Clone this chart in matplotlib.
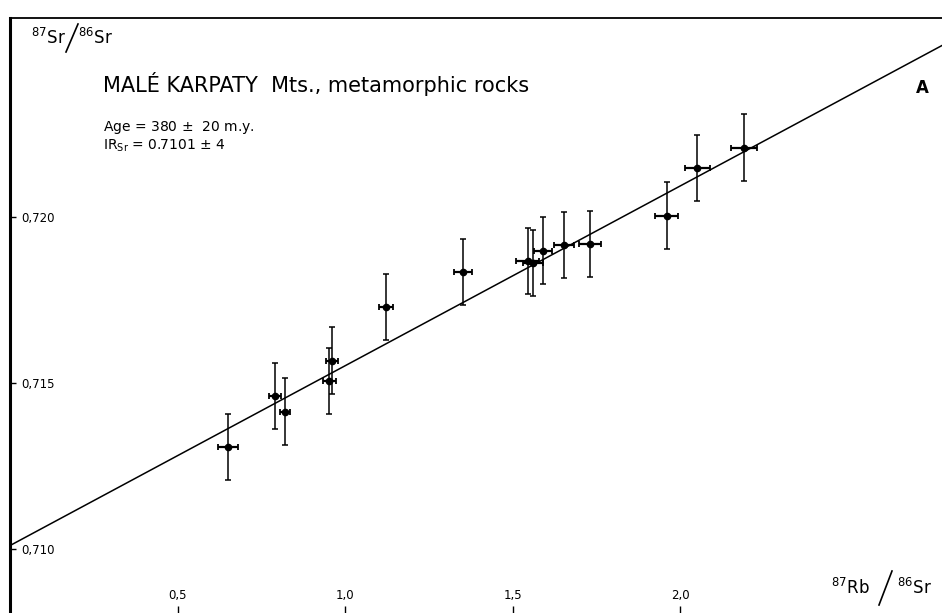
import numpy as np
import matplotlib
matplotlib.use("Agg")
import matplotlib.pyplot as plt
from matplotlib.lines import Line2D

# Rb-Sr whole-rock isochron, Malé Karpaty metamorphic rocks
rb_sr = [0.651, 0.791, 0.821, 0.953, 0.962, 1.121, 1.353, 1.545,
         1.562, 1.590, 1.653, 1.731, 1.960, 2.052, 2.191]
sr_sr = [0.71307, 0.71460, 0.71413, 0.71506, 0.71567, 0.71728, 0.71834, 0.71867,
         0.71860, 0.71898, 0.71915, 0.71918, 0.72003, 0.72146, 0.72208]
rb_err = [0.030, 0.017, 0.015, 0.020, 0.018, 0.021, 0.027, 0.035,
          0.030, 0.027, 0.030, 0.032, 0.035, 0.037, 0.040]
sr_err = [0.001] * len(sr_sr)

age_my = 380
initial_ratio = 0.7101
decay_const = 1.42e-11  # 87Rb, per year

x_ticks = [0.5, 1.0, 1.5, 2.0]
x_ticklabels = ['0,5', '1,0', '1,5', '2,0']
y_ticks = [0.710, 0.715, 0.720]
y_ticklabels = ['0,710', '0,715', '0,720']

plt.rcParams['font.family'] = ['DejaVu Sans']

W, H = 942, 613


def px(x, y):
    """pixel position (from top-left) -> figure fraction"""
    return x / W, 1 - y / H


def ratio_label(num, den, x0, x1, baseline, slash_from, slash_to):
    # isotope ratio written as  num / den  with a tall thin slash
    fig.text(*px(x0, baseline), num, fontsize=12, ha='left', va='baseline')
    fig.text(*px(x1, baseline), den, fontsize=12, ha='left', va='baseline')
    (xa, ya), (xb, yb) = px(*slash_from), px(*slash_to)
    fig.add_artist(Line2D([xa, xb], [ya, yb], transform=fig.transFigure,
                          color='black', linewidth=1.2))


fig = plt.figure(figsize=(W / 100, H / 100), dpi=100)
ax = fig.add_axes([10 / W, 0, 1 - 10 / W, (H - 18) / H])
ax.set_xlim(0, 2.782)
ax.set_ylim(0.70807, 0.72598)

# isochron line from the stated age and initial ratio
slope = np.exp(decay_const * age_my * 1e6) - 1
xs = np.array([0, 2.782])
ax.plot(xs, initial_ratio + slope * xs, color='black', linewidth=1.1, zorder=2)

# analytical uncertainties
ax.errorbar(rb_sr, sr_sr, yerr=sr_err, fmt='none', ecolor='black',
            elinewidth=1.1, capsize=2.5, capthick=1.1, zorder=3)
ax.errorbar(rb_sr, sr_sr, xerr=rb_err, fmt='none', ecolor='black',
            elinewidth=1.6, capsize=2.5, capthick=1.3, zorder=3)
ax.plot(rb_sr, sr_sr, 'o', color='black', markersize=4.5, zorder=4)

# frame: heavy left axis, thin top rule
ax.spines['left'].set_linewidth(2.2)
ax.spines['top'].set_linewidth(1.3)
ax.spines['right'].set_visible(False)
ax.spines['bottom'].set_visible(False)

ax.set_xticks(x_ticks)
ax.set_xticklabels(x_ticklabels)
ax.set_yticks(y_ticks)
ax.set_yticklabels(y_ticklabels)
ax.tick_params(axis='x', direction='in', length=5, width=1, pad=-17, labelsize=8.5)
ax.tick_params(axis='y', direction='in', length=4, width=1, pad=-8, labelsize=8.5)
for lbl in ax.get_yticklabels():
    lbl.set_horizontalalignment('left')

# axis titles
ratio_label(r'$^{87}\mathrm{Sr}$', r'$^{86}\mathrm{Sr}$', 31, 78, 44,
            (66, 52), (78, 24))
ratio_label(r'$^{87}\mathrm{Rb}$', r'$^{86}\mathrm{Sr}$', 831, 897, 594,
            (879, 605), (892, 571))

fig.text(*px(103, 84), 'MALÉ KARPATY  Mts., metamorphic rocks',
         fontsize=15, ha='left', va='center')
fig.text(*px(103, 127), f'Age = {age_my} $\\pm$  20 m.y.',
         fontsize=10, ha='left', va='center')
fig.text(*px(103, 150),
         r'IR$_{\mathrm{Sr}}$ = ' + f'{initial_ratio:.4f}' + r' $\pm$ 4',
         fontsize=10, ha='left', va='baseline')
fig.text(*px(922, 88), 'A', fontsize=12, fontweight='bold',
         ha='center', va='center')

fig.savefig('out.png', dpi=100)
